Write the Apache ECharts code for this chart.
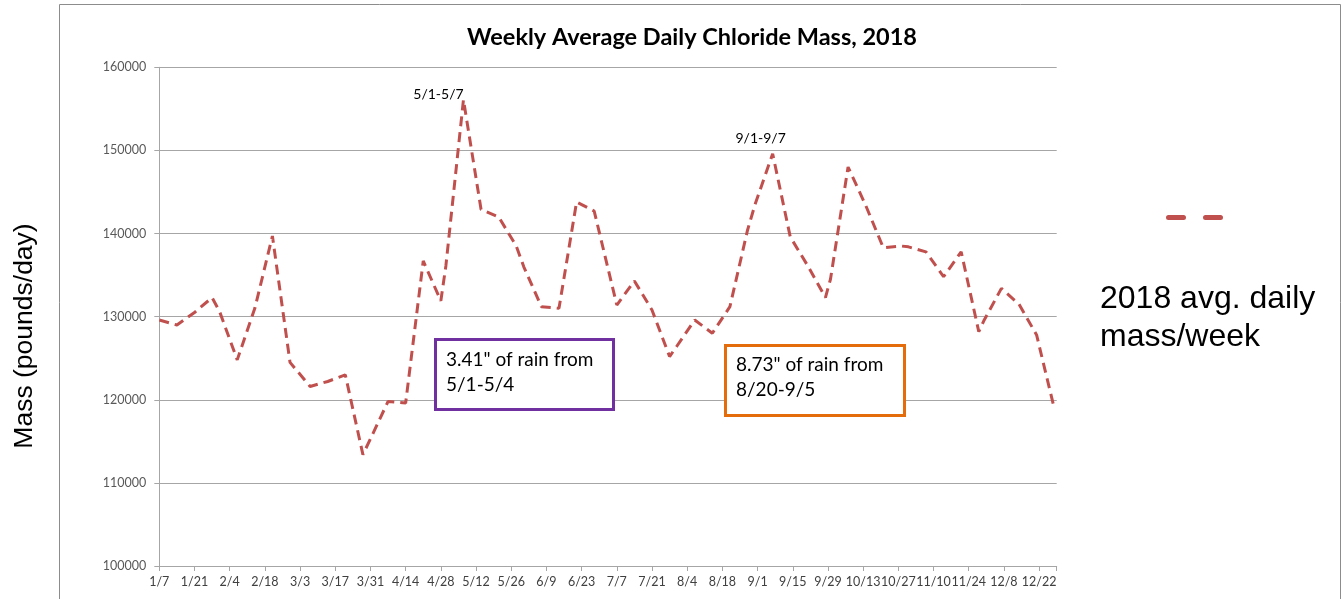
<!DOCTYPE html>
<html>
<head>
<meta charset="utf-8">
<script src="https://cdn.jsdelivr.net/npm/echarts@6/dist/echarts.min.js"></script>
<style>
html,body{margin:0;padding:0;background:#fff;}
#chart{width:1343px;height:599px;}
</style>
</head>
<body>
<div id="chart"></div>
<script>
// Period end dates (month-based weeks) and weekly average daily chloride mass (lb/day)
const periodEnds = ['1/7','1/14','1/21','1/28','1/31','2/7','2/14','2/21','2/28',
  '3/7','3/14','3/21','3/28','3/31','4/7','4/14','4/21','4/28','4/30',
  '5/7','5/14','5/21','5/28','5/31','6/7','6/14','6/21','6/28','6/30',
  '7/7','7/14','7/21','7/28','7/31','8/7','8/14','8/21','8/28','8/31',
  '9/7','9/14','9/21','9/28','9/30','10/7','10/14','10/21','10/28','10/31',
  '11/7','11/14','11/21','11/28','11/30','12/7','12/14','12/21','12/28'];
const massValues = [129600,129000,130500,132300,130600,124800,131000,139700,124500,
  121600,122200,123000,113400,115300,119800,119600,136700,131900,136100,
  156100,142900,142000,138500,136000,131200,131000,143800,142700,140200,
  131400,134300,130800,125200,126500,129600,128000,131200,140400,143500,
  149600,139600,136100,132300,134500,148000,143400,138300,138500,138400,
  137800,134800,137800,128200,129500,133400,131500,127800,119000];
const tickLabels = ['1/7','1/21','2/4','2/18','3/3','3/17','3/31','4/14','4/28','5/12','5/26','6/9','6/23',
  '7/7','7/21','8/4','8/18','9/1','9/15','9/29','10/13','10/27','11/10','11/24','12/8','12/22'];
const peakLabels = [{end:'5/7', text:'5/1-5/7'}, {end:'9/7', text:'9/1-9/7'}];
const seriesName = '2018 avg. daily mass/week';

// the chart's date axis follows a leap-year calendar (2/18 + 14 days = 3/3)
const monthDays = [31,29,31,30,31,30,31,31,30,31,30,31];
function dayOffset(md){
  const p = md.split('/').map(Number);
  let n = p[1];
  for (let i = 0; i < p[0]-1; i++) n += monthDays[i];
  return n - 7; // days since 1/7
}
const labelStyle = {};
labelStyle[peakLabels[0].end] = {text: peakLabels[0].text, offset: [-25, 7]};
labelStyle[peakLabels[1].end] = {text: peakLabels[1].text, offset: [-12, -3]};

const seriesData = periodEnds.map((d, i) => {
  const item = {value: [dayOffset(d), massValues[i]]};
  if (labelStyle[d]) {
    item.label = {show: true, position: 'top', formatter: labelStyle[d].text,
      offset: labelStyle[d].offset, fontFamily: 'Lato', fontSize: 14, color: '#000'};
  }
  return item;
});

const chart = echarts.init(document.getElementById('chart'));
chart.setOption({
  animation: false,
  backgroundColor: '#fff',
  title: {
    text: 'Weekly Average Daily Chloride Mass, 2018',
    left: 687, top: 20, textAlign: 'center',
    textStyle: {fontFamily: 'Lato', fontWeight: 'bold', fontSize: 23.5, color: '#000'}
  },
  legend: {
    left: 1166, top: 215, padding: 0,
    itemWidth: 57, itemHeight: 5,
    formatter: () => '',
    textStyle: {fontSize: 5, lineHeight: 5},
    data: [{name: seriesName, icon: 'path://M2.5,0h15a2.5,2.5 0 0 1 0,5h-15a2.5,2.5 0 0 1 0,-5z M39.5,0h15a2.5,2.5 0 0 1 0,5h-15a2.5,2.5 0 0 1 0,-5z'}]
  },
  grid: {left: 159.3, right: 286.3, top: 67.3, bottom: 33, containLabel: false},
  xAxis: {
    type: 'value', min: 0, max: 357, interval: 14,
    axisLine: {show: true, lineStyle: {color: '#A6A6A6', width: 1}},
    axisTick: {show: true, length: 5, lineStyle: {color: '#A6A6A6'}},
    splitLine: {show: false},
    axisLabel: {
      margin: 9, fontFamily: 'Lato', fontSize: 12.5, color: '#404040',
      formatter: v => (v % 14 === 0 && tickLabels[v / 14]) ? tickLabels[v / 14] : ''
    }
  },
  yAxis: {
    type: 'value', min: 100000, max: 160000, interval: 10000,
    axisLine: {show: true, lineStyle: {color: '#A6A6A6', width: 1}},
    axisTick: {show: true, length: 5, lineStyle: {color: '#A6A6A6'}},
    splitLine: {show: true, lineStyle: {color: '#A6A6A6', width: 1}},
    axisLabel: {margin: 13, fontFamily: 'Lato', fontSize: 12.5, color: '#595959', formatter: v => String(v)}
  },
  series: [{
    name: seriesName,
    type: 'line',
    data: seriesData,
    symbol: 'circle', symbolSize: 0, showSymbol: true,
    itemStyle: {color: '#C0504D'},
    lineStyle: {color: '#C0504D', width: 3, type: [10, 6], cap: 'butt'},
    label: {show: false},
    z: 3
  }],
  graphic: [
    {type: 'rect', z: 100, shape: {x: 59.5, y: 4.5, width: 1281, height: 620},
      style: {fill: 'none', stroke: '#8C8C8C', lineWidth: 1}},
    {type: 'rect', z: 100, shape: {x: 435.5, y: 339.5, width: 178, height: 70},
      style: {fill: '#fff', stroke: '#7030A0', lineWidth: 3}},
    {type: 'text', z: 101, left: 446, top: 347.5,
      style: {text: '3.41" of rain from\n5/1-5/4', font: '19px Lato', fill: '#000', lineHeight: 25}},
    {type: 'rect', z: 100, shape: {x: 725.5, y: 345.5, width: 179, height: 70},
      style: {fill: '#fff', stroke: '#E46C0A', lineWidth: 3}},
    {type: 'text', z: 101, left: 736, top: 352.5,
      style: {text: '8.73" of rain from\n8/20-9/5', font: '19px Lato', fill: '#000', lineHeight: 25}},
    {type: 'text', z: 101, x: 25, y: 336, rotation: Math.PI / 2,
      style: {text: 'Mass (pounds/day)', x: 0, y: 0, align: 'center', verticalAlign: 'middle',
        font: '26.5px "Liberation Sans"', fill: '#000'}},
    {type: 'text', z: 101, left: 1100, top: 280,
      style: {text: '2018 avg. daily\nmass/week', font: '32px "Liberation Sans"', fill: '#000', lineHeight: 38}}
  ]
});
</script>
</body>
</html>
